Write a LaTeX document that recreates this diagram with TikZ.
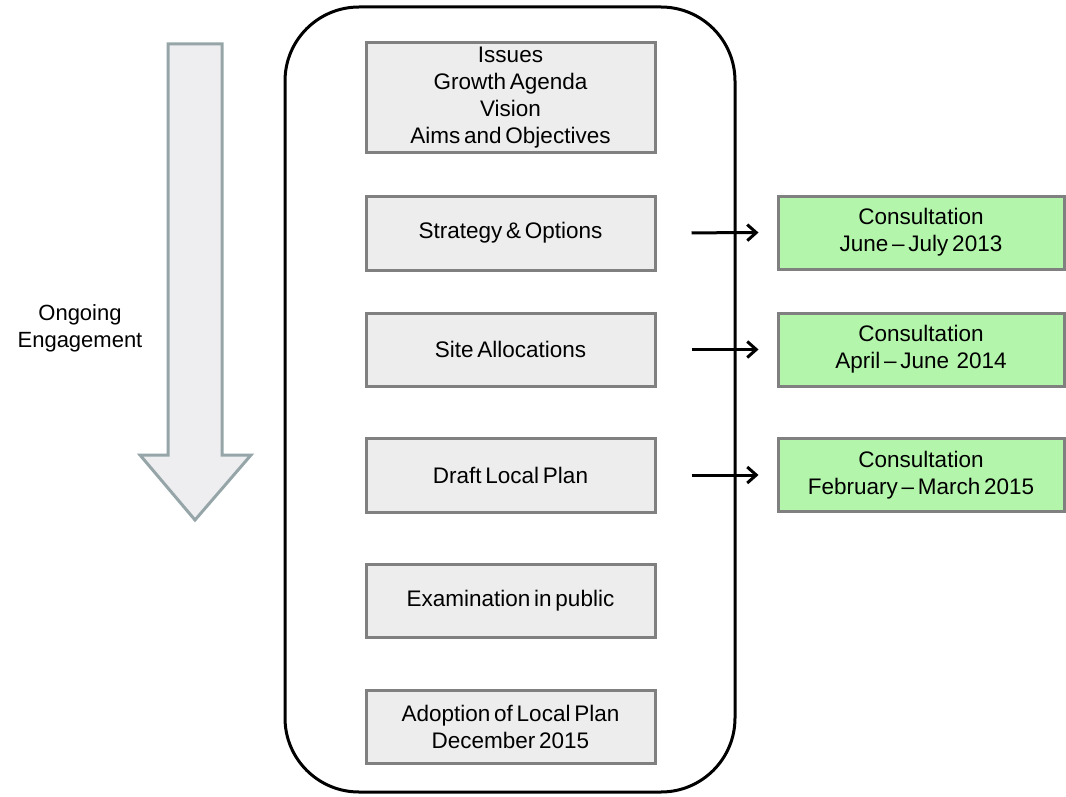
\documentclass[tikz,border=0pt]{standalone}
\usepackage{fontspec}
\setmainfont[WordSpace=0.6]{Liberation Sans}
\newfontfamily\labelfont{Liberation Sans}
\usetikzlibrary{arrows.meta}
\definecolor{boxgray}{RGB}{238,237,238}
\definecolor{edgegray}{RGB}{128,128,128}
\definecolor{boxgreen}{RGB}{180,245,172}
\definecolor{arrowfill}{RGB}{238,238,240}
\definecolor{arrowedge}{RGB}{150,166,168}
\tikzset{
  stage/.style={draw=edgegray, fill=boxgray, line width=3pt, minimum width=289pt,
    inner sep=0pt, align=center, font=\fontsize{22.5}{27}\selectfont},
  consult/.style={draw=edgegray, fill=boxgreen, line width=3pt, minimum width=286pt,
    minimum height=73pt, inner sep=0pt, align=center, font=\fontsize{22.5}{27}\selectfont},
  link/.style={line width=3pt, -{Straight Barb[length=9pt,width=16pt]}, shorten <=35pt, shorten >=18pt}
}
\begin{document}
\begin{tikzpicture}[x=1pt,y=-1pt]
\useasboundingbox (0,0) rectangle (1066,797);
\fill[white] (0,0) rectangle (1066,797);
% big downward arrow
\draw[fill=arrowfill, draw=arrowedge, line width=3pt, line join=miter]
  (168,44) -- (222,44) -- (222,455) -- (251,455) -- (195,520) -- (140,455) -- (168,455) -- cycle;
\node[align=center, font=\labelfont\fontsize{22}{27}\selectfont] (eng) at (80,328.5) {Ongoing\\Engagement};
% container
\draw[line width=3pt, rounded corners=74pt] (285,7) rectangle (735,792);
% stages
\node[stage, minimum height=110pt] (s1) at (510.5,98) {Issues\\Growth Agenda\\Vision\\Aims and Objectives};
\node[stage, minimum height=74pt] (s2) at (510.5,233) {Strategy \& Options};
\node[stage, minimum height=73pt] (s3) at (510.5,349.5) {Site Allocations};
\node[stage, minimum height=74pt] (s4) at (510.5,475) {Draft Local Plan};
\node[stage, minimum height=73pt] (s5) at (510.5,600.5) {Examination in public};
\node[stage, minimum height=73pt] (s6) at (510.5,726.5) {Adoption of Local Plan\\December 2015};
% consultations
\node[consult] (c1) at (921,232.5) {Consultation\\June -- July 2013};
\node[consult] (c2) at (921,349.5) {Consultation\\April -- June\ \ 2014};
\node[consult] (c3) at (921,475) {Consultation\\February -- March 2015};
\draw[link] (s2.east) -- (c1.west);
\draw[link] (s3.east) -- (c2.west);
\draw[link] (s4.east) -- (c3.west);
\end{tikzpicture}
\end{document}
